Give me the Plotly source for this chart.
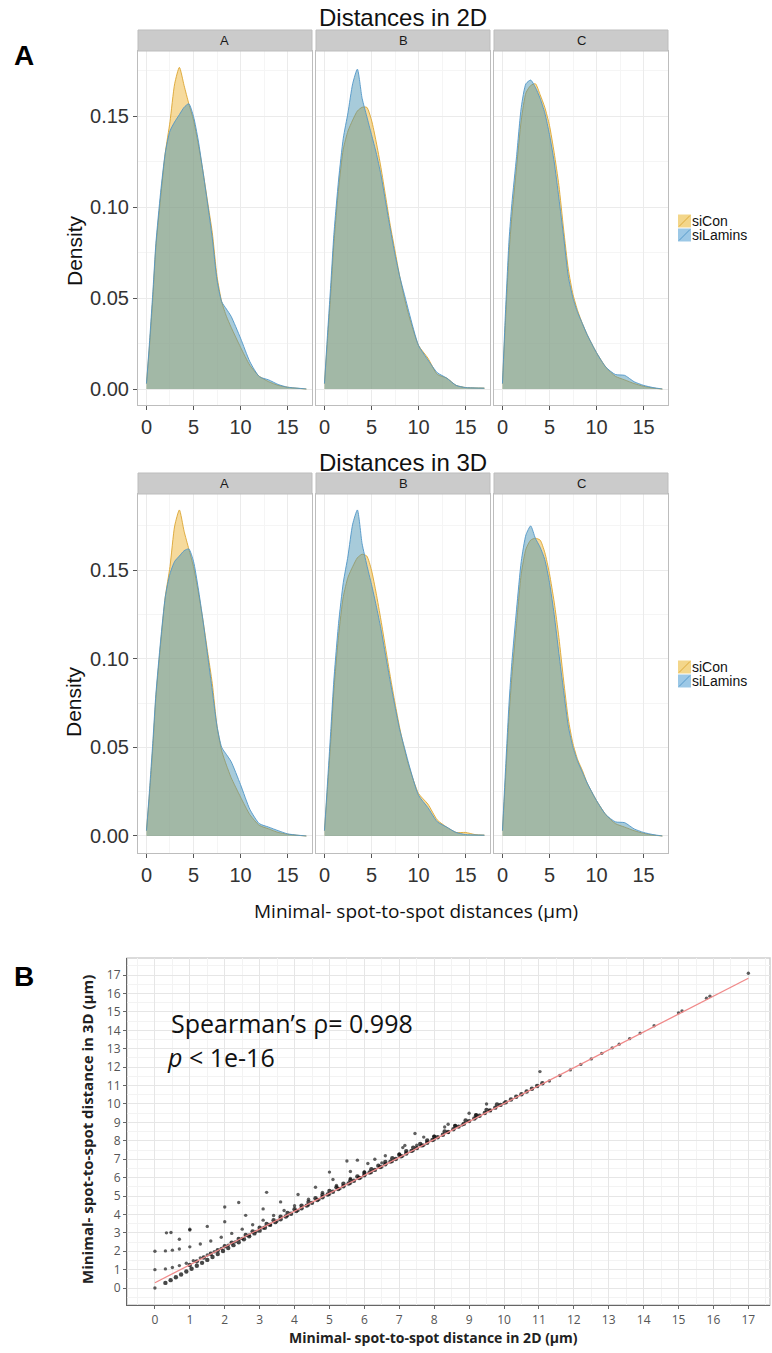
import plotly.graph_objects as go

W, H = 772, 1353

# ---------------- data ----------------
dens_x = [0, 0.3, 0.7, 1, 1.5, 2, 2.5, 3, 3.5, 4, 4.5, 5, 5.5, 6, 6.5, 7, 7.5, 8, 8.5, 9,
          10, 11, 12, 13, 14, 15, 16, 17]

panels = ["A", "B", "C"]
groups = ["siCon", "siLamins"]

# Distances in 2D
d2_A_siCon = [0.003, 0.022, 0.052, 0.078, 0.105, 0.130, 0.147, 0.168, 0.177, 0.167, 0.157, 0.148, 0.135, 0.120,
              0.103, 0.086, 0.062, 0.048, 0.040, 0.034, 0.023, 0.013, 0.007, 0.004, 0.002, 0.001, 0.0004, 0.0]
d2_A_siLamins = [0.003, 0.024, 0.055, 0.080, 0.108, 0.130, 0.142, 0.147, 0.151, 0.155, 0.157, 0.150, 0.137, 0.120,
                 0.102, 0.083, 0.060, 0.048, 0.044, 0.040, 0.028, 0.015, 0.0068, 0.005, 0.0025, 0.001, 0.0005, 0.0]
d2_B_siCon = [0.003, 0.025, 0.055, 0.080, 0.110, 0.132, 0.142, 0.148, 0.153, 0.155, 0.155, 0.148, 0.136, 0.122,
              0.106, 0.090, 0.076, 0.062, 0.050, 0.040, 0.024, 0.017, 0.008, 0.006, 0.002, 0.0008, 0.0006, 0.0005]
d2_B_siLamins = [0.003, 0.028, 0.060, 0.085, 0.115, 0.138, 0.152, 0.168, 0.176, 0.160, 0.150, 0.140, 0.130, 0.118,
                 0.103, 0.088, 0.074, 0.062, 0.052, 0.042, 0.024, 0.016, 0.009, 0.006, 0.002, 0.0008, 0.0006, 0.0005]
d2_C_siCon = [0.003, 0.035, 0.075, 0.095, 0.122, 0.148, 0.163, 0.167, 0.168, 0.162, 0.155, 0.145, 0.130, 0.112,
              0.088, 0.066, 0.052, 0.043, 0.036, 0.030, 0.020, 0.012, 0.007, 0.005, 0.003, 0.0015, 0.0005, 0.0]
d2_C_siLamins = [0.003, 0.040, 0.082, 0.102, 0.128, 0.155, 0.168, 0.170, 0.166, 0.160, 0.152, 0.140, 0.125, 0.105,
                 0.084, 0.062, 0.050, 0.042, 0.036, 0.030, 0.020, 0.012, 0.008, 0.0075, 0.004, 0.002, 0.0008, 0.0]

# Distances in 3D
d3_A_siCon = [0.003, 0.022, 0.052, 0.078, 0.108, 0.135, 0.152, 0.175, 0.184, 0.172, 0.162, 0.152, 0.138, 0.122,
              0.104, 0.086, 0.062, 0.048, 0.040, 0.033, 0.022, 0.012, 0.006, 0.004, 0.002, 0.001, 0.0004, 0.0]
d3_A_siLamins = [0.003, 0.024, 0.055, 0.080, 0.110, 0.135, 0.148, 0.155, 0.158, 0.161, 0.162, 0.155, 0.140, 0.122,
                 0.102, 0.082, 0.062, 0.050, 0.046, 0.042, 0.029, 0.015, 0.007, 0.005, 0.003, 0.0012, 0.0005, 0.0]
d3_B_siCon = [0.003, 0.025, 0.056, 0.082, 0.113, 0.135, 0.146, 0.152, 0.157, 0.159, 0.158, 0.150, 0.137, 0.122,
              0.106, 0.090, 0.075, 0.061, 0.049, 0.039, 0.024, 0.018, 0.009, 0.005, 0.002, 0.002, 0.0008, 0.0005]
d3_B_siLamins = [0.003, 0.028, 0.062, 0.088, 0.120, 0.143, 0.158, 0.176, 0.184, 0.165, 0.153, 0.142, 0.130, 0.117,
                 0.102, 0.087, 0.073, 0.060, 0.050, 0.040, 0.023, 0.016, 0.008, 0.005, 0.002, 0.0008, 0.0006, 0.0005]
d3_C_siCon = [0.003, 0.030, 0.068, 0.090, 0.120, 0.148, 0.162, 0.167, 0.168, 0.167, 0.160, 0.148, 0.132, 0.112,
              0.088, 0.066, 0.052, 0.043, 0.037, 0.030, 0.020, 0.012, 0.007, 0.005, 0.003, 0.0015, 0.0005, 0.0]
d3_C_siLamins = [0.003, 0.035, 0.075, 0.098, 0.128, 0.155, 0.170, 0.175, 0.168, 0.163, 0.156, 0.143, 0.125, 0.103,
                 0.082, 0.062, 0.050, 0.042, 0.036, 0.030, 0.020, 0.012, 0.008, 0.0075, 0.004, 0.002, 0.0008, 0.0]

dens_2d = {("A", "siCon"): d2_A_siCon, ("A", "siLamins"): d2_A_siLamins,
           ("B", "siCon"): d2_B_siCon, ("B", "siLamins"): d2_B_siLamins,
           ("C", "siCon"): d2_C_siCon, ("C", "siLamins"): d2_C_siLamins}
dens_3d = {("A", "siCon"): d3_A_siCon, ("A", "siLamins"): d3_A_siLamins,
           ("B", "siCon"): d3_B_siCon, ("B", "siLamins"): d3_B_siLamins,
           ("C", "siCon"): d3_C_siCon, ("C", "siLamins"): d3_C_siLamins}

# Scatter: 2D vs 3D minimal distances
pts_main_x = [0.30, 0.45, 0.60, 0.75, 0.90, 1.05, 1.20, 1.35, 1.50, 1.65, 1.80, 1.95, 2.10, 2.25, 2.40, 2.55,
              2.70, 2.85, 3.00, 3.15, 3.30, 3.45, 3.60, 3.75, 3.90, 4.05, 4.20, 4.35, 4.50, 4.65, 4.80, 4.95,
              5.10, 5.25, 5.40, 5.55, 5.70, 5.85, 6.00, 6.15, 6.30, 6.45, 6.60, 6.75, 6.90, 7.05, 7.20, 7.35,
              7.50, 7.65, 7.80, 7.95, 8.10, 8.25, 8.40, 8.55, 8.70, 8.85, 9.00, 9.15, 9.30, 9.45, 9.60, 9.75,
              9.90, 10.05, 10.20, 10.35, 10.50, 10.65, 10.80, 10.95, 11.10]
pts_main_y = [0.28, 0.43, 0.59, 0.74, 0.90, 1.05, 1.21, 1.37, 1.53, 1.69, 1.85, 2.01, 2.17, 2.33, 2.49, 2.65,
              2.81, 2.97, 3.12, 3.28, 3.43, 3.58, 3.74, 3.89, 4.04, 4.19, 4.33, 4.48, 4.63, 4.78, 4.93, 5.08,
              5.23, 5.38, 5.53, 5.68, 5.83, 5.98, 6.13, 6.28, 6.42, 6.57, 6.72, 6.87, 7.01, 7.16, 7.31, 7.45,
              7.60, 7.75, 7.89, 8.04, 8.19, 8.33, 8.48, 8.63, 8.77, 8.92, 9.07, 9.21, 9.36, 9.51, 9.65, 9.80,
              9.95, 10.09, 10.24, 10.39, 10.53, 10.68, 10.83, 10.98, 11.13]
pts_main2_x = [1.0, 1.2, 1.4, 1.6, 1.8, 2.0, 2.2, 2.4, 2.6, 2.8, 3.0, 3.2, 3.4, 3.6, 3.8, 4.0, 4.2, 4.4, 4.6,
               4.8, 5.0, 5.2, 5.4, 5.6, 5.8, 6.0, 6.2, 6.4, 6.6, 6.8, 7.0, 7.2, 7.4, 7.6, 7.8, 8.0, 8.3, 8.6,
               8.9, 9.2, 9.5, 9.8]
pts_main2_y = [1.25, 1.45, 1.66, 1.86, 2.06, 2.27, 2.47, 2.67, 2.88, 3.08, 3.28, 3.48, 3.68, 3.88, 4.08, 4.28,
               4.48, 4.68, 4.88, 5.07, 5.27, 5.47, 5.67, 5.86, 6.06, 6.26, 6.46, 6.65, 6.85, 7.05, 7.24, 7.44,
               7.63, 7.83, 8.02, 8.22, 8.51, 8.81, 9.10, 9.39, 9.68, 9.97]
pts_b1_x = [0.0, 0.3, 0.5, 0.7, 0.9, 1.1, 1.3, 1.5, 1.7, 1.9, 2.1, 2.3, 2.5, 2.7, 2.9, 3.1, 3.3, 3.5, 3.8,
            4.1, 4.4, 4.7, 5.0, 5.3, 5.6, 5.9, 6.2, 6.5, 6.8, 7.1, 7.4, 7.7, 8.0, 8.4, 8.8, 9.2, 9.6, 10.0]
pts_b1_y = [1.00, 1.04, 1.12, 1.22, 1.35, 1.49, 1.64, 1.80, 1.97, 2.15, 2.33, 2.51, 2.69, 2.88, 3.07, 3.26,
            3.45, 3.64, 3.93, 4.22, 4.51, 4.81, 5.10, 5.40, 5.69, 5.99, 6.28, 6.58, 6.87, 7.17, 7.47, 7.76,
            8.06, 8.46, 8.86, 9.25, 9.65, 10.05]
pts_b2_x = [0.0, 0.3, 0.5, 0.7, 1.0, 1.3, 1.6, 1.9, 2.2, 2.5, 2.8, 3.1, 3.4, 3.7, 4.0, 4.4, 4.8, 5.2, 5.6,
            6.0, 6.5, 7.0, 7.5, 8.0, 8.6, 9.2]
pts_b2_y = [2.00, 2.02, 2.06, 2.12, 2.24, 2.39, 2.56, 2.76, 2.97, 3.20, 3.44, 3.69, 3.94, 4.21, 4.47, 4.83,
            5.20, 5.57, 5.95, 6.32, 6.80, 7.28, 7.76, 8.25, 8.83, 9.41]
pts_b3_x = [0.33, 0.46, 1.0, 1.5, 2.0, 2.6, 3.1, 3.6, 4.1, 4.6, 5.1, 5.6, 6.1, 6.6, 7.1, 7.7, 8.3]
pts_b3_y = [3.00, 3.02, 3.15, 3.35, 3.60, 3.95, 4.30, 4.68, 5.08, 5.48, 5.90, 6.33, 6.77, 7.19, 7.63, 8.20, 8.75]
pts_other_x = [0.0, 0.7, 1.0, 2.0, 2.4, 3.2, 5.0, 5.5, 5.8, 6.3, 7.16, 7.45, 8.4, 9.0, 9.5, 11.03, 11.3, 11.6,
               11.9, 12.2, 12.5, 12.8, 13.1, 13.3, 13.6, 13.9, 14.3, 15.0, 15.1, 15.8, 15.9, 17.0]
pts_other_y = [0.0, 2.65, 3.2, 4.4, 4.65, 5.2, 6.3, 6.9, 6.95, 7.0, 7.75, 8.4, 8.9, 9.5, 10.0, 11.76, 11.25,
               11.55, 11.85, 12.15, 12.45, 12.75, 13.05, 13.25, 13.55, 13.85, 14.25, 14.95, 15.05, 15.75,
               15.85, 17.1]
fit_x = [0, 17]
fit_y = [0.29, 16.83]

# ---------------- helpers ----------------
def px(x):
    return x / W

def py(y):
    return 1 - y / H

fill_col = {"siCon": "rgba(236,178,48,0.48)", "siLamins": "rgba(72,146,178,0.48)"}
line_col = {"siCon": "rgba(220,165,50,0.9)", "siLamins": "rgba(80,150,200,0.9)"}
key_col = {"siCon": "#F3D68A", "siLamins": "#9CC8E6"}

panel_x = [(138, 312), (316, 490), (494, 668)]
rows = [dict(data=dens_2d, strip=(30, 51), plot=(51, 405), yr=[-0.0088, 0.186], title="Distances in 2D",
             title_y=17, dens_y=251, leg_y=228),
        dict(data=dens_3d, strip=(473, 494), plot=(494, 853), yr=[-0.0096, 0.193], title="Distances in 3D",
             title_y=462, dens_y=702, leg_y=674)]

AX = "Liberation Sans"
fig = go.Figure()
layout = dict(width=W, height=H, margin=dict(l=0, r=0, t=0, b=0), paper_bgcolor="white",
              plot_bgcolor="white", showlegend=False)
shapes = []
annotations = []

k = 0
for r, row in enumerate(rows):
    for c, pnl in enumerate(panels):
        k += 1
        xa = "x" if k == 1 else f"x{k}"
        ya = "y" if k == 1 else f"y{k}"
        for g in groups:
            fig.add_trace(go.Scatter(x=dens_x, y=row["data"][(pnl, g)], mode="lines", fill="tozeroy",
                                     fillcolor=fill_col[g], line=dict(color=line_col[g], width=1, shape="spline",
                                                                      smoothing=0.6),
                                     name=g, xaxis=xa, yaxis=ya, hoverinfo="skip"))
        x0, x1 = panel_x[c]
        t0, t1 = row["plot"]
        layout["xaxis" if k == 1 else f"xaxis{k}"] = dict(
            domain=[px(x0), px(x1)], anchor=ya, range=[-0.9, 17.6], tickvals=[0, 5, 10, 15],
            showgrid=True, gridcolor="#EBEBEB", gridwidth=1, zeroline=False,
            minor=dict(dtick=2.5, tick0=0, showgrid=True, gridcolor="#F5F5F5", gridwidth=1),
            showline=True, mirror=True, linecolor="#BDBDBD", linewidth=1,
            ticks="outside", ticklen=4, tickcolor="#555555",
            tickfont=dict(family=AX, size=20, color="#333333"))
        layout["yaxis" if k == 1 else f"yaxis{k}"] = dict(
            domain=[py(t1), py(t0)], anchor=xa, range=row["yr"], tickvals=[0, 0.05, 0.10, 0.15],
            tickformat=".2f", showticklabels=(c == 0),
            showgrid=True, gridcolor="#EBEBEB", gridwidth=1, zeroline=False,
            minor=dict(dtick=0.025, tick0=0, showgrid=True, gridcolor="#F5F5F5", gridwidth=1),
            showline=True, mirror=True, linecolor="#BDBDBD", linewidth=1,
            ticks="outside" if c == 0 else "", ticklen=4, tickcolor="#555555",
            tickfont=dict(family=AX, size=20, color="#333333"))
        s0, s1 = row["strip"]
        shapes.append(dict(type="rect", xref="paper", yref="paper", x0=px(x0), x1=px(x1), y0=py(s1), y1=py(s0),
                           fillcolor="#CBCBCB", line=dict(color="#BDBDBD", width=1), layer="above"))
        annotations.append(dict(x=px((x0 + x1) / 2), y=py((s0 + s1) / 2), xref="paper", yref="paper",
                                text=pnl, showarrow=False, font=dict(family=AX, size=13, color="#1A1A1A"),
                                xanchor="center", yanchor="middle"))
    annotations.append(dict(x=px(403), y=py(row["title_y"]), xref="paper", yref="paper", text=row["title"],
                            showarrow=False, font=dict(family=AX, size=24, color="#111111"),
                            xanchor="center", yanchor="middle"))
    annotations.append(dict(x=px(74), y=py(row["dens_y"]), xref="paper", yref="paper", text="Density",
                            textangle=-90, showarrow=False, font=dict(family=AX, size=21, color="#111111"),
                            xanchor="center", yanchor="middle"))
    # legend
    ly = row["leg_y"]
    for i, g in enumerate(groups):
        yc = ly + (i - 0.5) * 14
        shapes.append(dict(type="rect", xref="paper", yref="paper", x0=px(678), x1=px(691),
                           y0=py(yc + 6.5), y1=py(yc - 6.5), fillcolor=key_col[g], line=dict(width=0)))
        shapes.append(dict(type="line", xref="paper", yref="paper", x0=px(679), x1=px(690),
                           y0=py(yc + 5.5), y1=py(yc - 5.5), line=dict(color=line_col[g], width=1)))
        annotations.append(dict(x=px(691), y=py(yc), xref="paper", yref="paper", text=g, showarrow=False,
                                font=dict(family=AX, size=14, color="#111111"), xanchor="left",
                                yanchor="middle", borderpad=0))

annotations.append(dict(x=px(416), y=py(911), xref="paper", yref="paper",
                        text="Minimal- spot-to-spot distances (µm)", showarrow=False,
                        font=dict(family="Open Sans", size=19, color="#111111"), xanchor="center",
                        yanchor="middle"))
annotations.append(dict(x=px(12), y=py(55), xref="paper", yref="paper", text="<b>A</b>", showarrow=False,
                        font=dict(family=AX, size=28, color="black"), xanchor="left", yanchor="middle"))
annotations.append(dict(x=px(12), y=py(977), xref="paper", yref="paper", text="<b>B</b>", showarrow=False,
                        font=dict(family=AX, size=28, color="black"), xanchor="left", yanchor="middle"))

# ---------------- scatter panel ----------------
SC = "Open Sans"
dense_style = dict(mode="markers", marker=dict(size=4.4, color="rgba(10,10,10,0.75)"), xaxis="x7", yaxis="y7",
                   hoverinfo="skip")
pt_style = dict(mode="markers", marker=dict(size=3.4, color="rgba(10,10,10,0.65)"), xaxis="x7", yaxis="y7",
                hoverinfo="skip")
for xs, ys in [(pts_main_x, pts_main_y), (pts_main2_x, pts_main2_y)]:
    fig.add_trace(go.Scatter(x=xs, y=ys, **dense_style))
for xs, ys in [(pts_b1_x, pts_b1_y), (pts_b2_x, pts_b2_y), (pts_b3_x, pts_b3_y), (pts_other_x, pts_other_y)]:
    fig.add_trace(go.Scatter(x=xs, y=ys, **pt_style))
fig.add_trace(go.Scatter(x=fit_x, y=fit_y, mode="lines", line=dict(color="#F08A8A", width=1.3),
                         xaxis="x7", yaxis="y7", hoverinfo="skip"))

sx0, sx1, sy0, sy1 = 127, 770, 958, 1305
layout["xaxis7"] = dict(domain=[px(sx0), px(sx1)], anchor="y7", range=[-0.8, 17.62], dtick=1, tick0=0,
                        showgrid=True, gridcolor="#E6E6E6", gridwidth=1, zeroline=False,
                        minor=dict(dtick=0.5, tick0=0, showgrid=True, gridcolor="#F3F3F3", gridwidth=1),
                        showline=True, linecolor="#666666", linewidth=1.2, ticks="outside", ticklen=3,
                        tickcolor="#666666", tickfont=dict(family=SC, size=12, color="#555555"))
layout["yaxis7"] = dict(domain=[py(sy1), py(sy0)], anchor="x7", range=[-0.92, 17.93], dtick=1, tick0=0,
                        showgrid=True, gridcolor="#E6E6E6", gridwidth=1, zeroline=False,
                        minor=dict(dtick=0.5, tick0=0, showgrid=True, gridcolor="#F3F3F3", gridwidth=1),
                        showline=True, linecolor="#666666", linewidth=1.2, ticks="outside", ticklen=3,
                        tickcolor="#666666", tickfont=dict(family=SC, size=12, color="#555555"))
shapes.append(dict(type="rect", xref="paper", yref="paper", x0=px(sx0), x1=px(sx1), y0=py(sy1), y1=py(sy0),
                   line=dict(color="#CFCFCF", width=1.5), layer="below"))
annotations.append(dict(x=px(170), y=py(1023), xref="paper", yref="paper", text="Spearman’s ρ= 0.998",
                        showarrow=False, font=dict(family=SC, size=25, color="#111111"), xanchor="left",
                        yanchor="middle", borderpad=0))
annotations.append(dict(x=px(166), y=py(1057), xref="paper", yref="paper", text="<i>p</i> < 1e-16",
                        showarrow=False, font=dict(family=SC, size=25, color="#111111"), xanchor="left",
                        yanchor="middle", borderpad=0))
annotations.append(dict(x=px(433), y=py(1337), xref="paper", yref="paper",
                        text="<b>Minimal- spot-to-spot distance in 2D (µm)</b>", showarrow=False,
                        font=dict(family=SC, size=14, color="#222222"), xanchor="center", yanchor="middle",
                        borderpad=0))
annotations.append(dict(x=px(87), y=py(1130), xref="paper", yref="paper",
                        text="<b>Minimal- spot-to-spot distance in 3D (µm)</b>", showarrow=False, textangle=-90,
                        font=dict(family=SC, size=15, color="#222222"), xanchor="center", yanchor="middle"))

layout["shapes"] = shapes
layout["annotations"] = annotations
fig.update_layout(**layout)
fig.write_html("out.html", config={"displayModeBar": False},
               post_script="document.body.style.margin='0px';document.body.style.overflow='hidden';")
